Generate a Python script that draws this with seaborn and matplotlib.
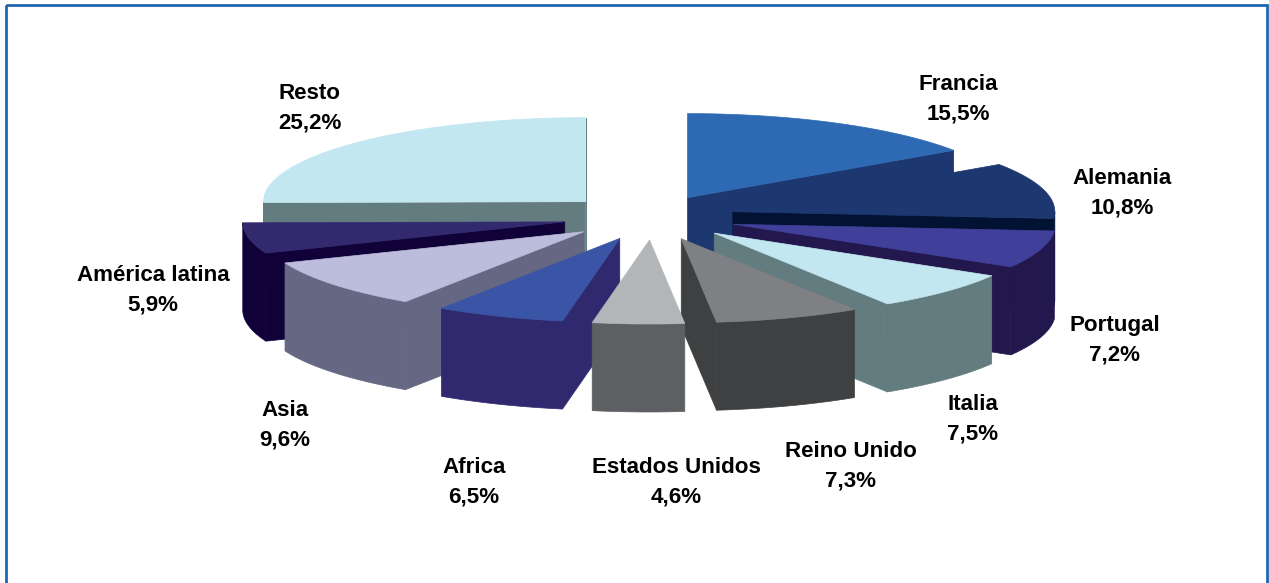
import numpy as np
import matplotlib
matplotlib.use('Agg')
import matplotlib.pyplot as plt
from matplotlib.patches import Polygon, Rectangle
import seaborn as sns

regions = ['Francia', 'Alemania', 'Portugal', 'Italia', 'Reino Unido',
           'Estados Unidos', 'Africa', 'Asia', 'América latina', 'Resto']
shares = [15.5, 10.8, 7.2, 7.5, 7.3, 4.6, 6.5, 9.6, 5.9, 25.2]

top_colors = ['#2e6ab3', '#1d3870', '#40409a', '#c3e7f0', '#7f8083',
              '#b2b6b8', '#3a55a5', '#bcbcdc', '#33296f', '#c3e7f0']
side_colors = ['#1d3870', '#021233', '#23184e', '#637c7f', '#3f4042',
               '#5e5f62', '#31296f', '#666783', '#100238', '#637c7f']

sns.set_theme(style='white')
plt.rcParams['font.family'] = ['Liberation Sans', 'DejaVu Sans']
top_pal = sns.color_palette(top_colors)
side_pal = sns.color_palette(side_colors)

# pie shape in pixels
cx, cy = 646.5, 217.5
rx, ry = 322, 84
ex, ey = 87, 22.5
depth = 88
lean = 3  # front slices sit a little further right

# label centres in pixels
label_x = [958, 1122, 1115, 973, 851, 676, 474, 285, 153, 310]
label_y = [99, 193, 340, 419, 466, 482, 482, 425, 290, 108]

fig = plt.figure(figsize=(12.69, 5.83), dpi=100)
ax = fig.add_axes([0, 0, 1, 1])
ax.set_xlim(0, 1269)
ax.set_ylim(583, 0)
ax.axis('off')

ax.add_patch(Rectangle((6, 5), 1261, 640, fill=False, ec='#1f66b0', lw=2))

edges = np.radians(np.concatenate([[0], np.cumsum(shares)]) / sum(shares) * 360)
mids = (edges[:-1] + edges[1:]) / 2


def arc(a, b, x0, y0):
    t = np.linspace(a, b, 60)
    return np.column_stack([x0 + rx * np.sin(t), y0 - ry * np.cos(t)])


def wall(pts, color):
    low = pts[::-1] + [0, depth]
    ax.add_patch(Polygon(np.vstack([pts, low]), fc=color, ec=color, lw=0.5))


# back slices first so the front ones cover them
for i in np.argsort(-np.cos(mids)):
    a, b = edges[i], edges[i + 1]
    x0 = cx + ex * np.sin(mids[i]) + lean * (1 - np.cos(mids[i]))
    y0 = cy - ey * np.cos(mids[i])
    apex = np.array([[x0, y0]])
    if np.sin(a) < 0:
        wall(np.vstack([apex, arc(a, a, x0, y0)[:1]]), side_pal[i])
    if np.sin(b) > 0:
        wall(np.vstack([apex, arc(b, b, x0, y0)[:1]]), side_pal[i])
    lo, hi = max(a, np.pi / 2), min(b, 3 * np.pi / 2)
    if lo < hi:
        wall(arc(lo, hi, x0, y0), side_pal[i])
    ax.add_patch(Polygon(np.vstack([apex, arc(a, b, x0, y0)]),
                         fc=top_pal[i], ec=top_pal[i], lw=0.5))

for name, val, x, y in zip(regions, shares, label_x, label_y):
    txt = f'{name}\n{val:.1f}%'.replace('.', ',')
    ax.text(x, y, txt, ha='center', va='center', fontsize=16.1, fontweight='bold',
            color='black', linespacing=1.55)

plt.savefig('out.png', dpi=100)
